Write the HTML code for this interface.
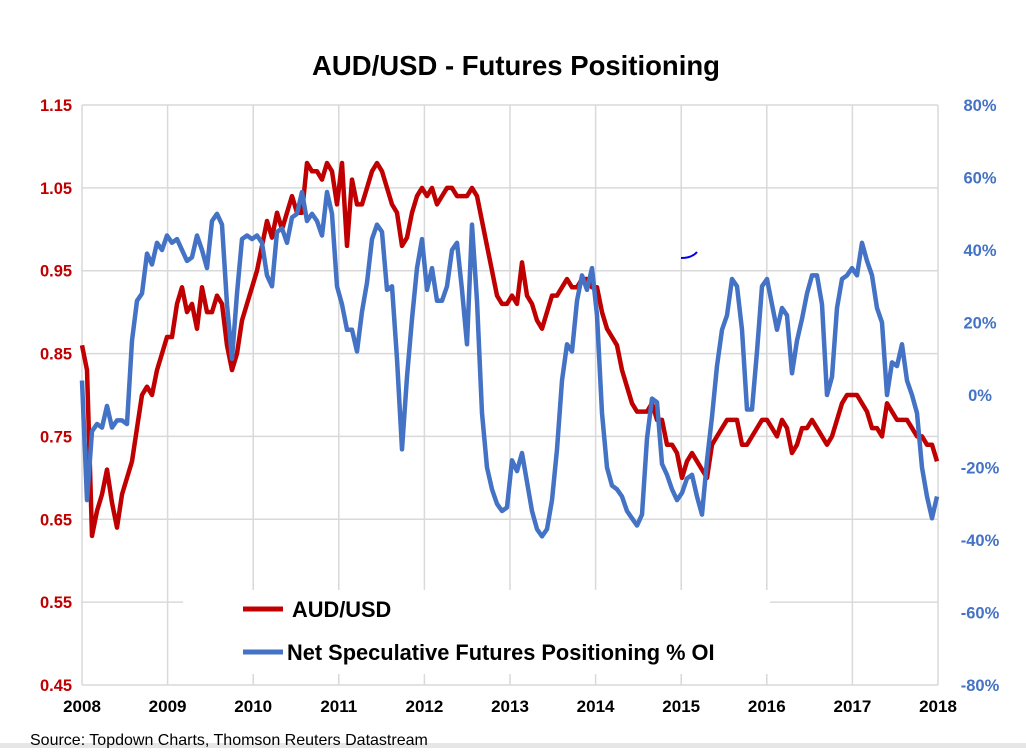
<!DOCTYPE html>
<html><head><meta charset="utf-8"><style>
body{margin:0;background:#fff;width:1026px;height:748px;overflow:hidden;font-family:"Liberation Sans",Arial,sans-serif}
svg text{font-family:"Liberation Sans",Arial,sans-serif;font-weight:bold}
</style></head><body>
<svg id="chart" width="1026" height="748" xmlns="http://www.w3.org/2000/svg">
<rect x="0" y="743" width="1026" height="5" fill="#e6e6e6"/>
<text x="516" y="75" text-anchor="middle" font-size="27.5" fill="#000">AUD/USD - Futures Positioning</text>
<g id="grid"></g>
<g id="series"></g>
<rect x="183" y="590" width="587" height="84" fill="#fff"/>
<line x1="243" y1="609" x2="283" y2="609" stroke="#C00000" stroke-width="5"/>
<text x="292" y="617" font-size="21.8" fill="#000">AUD/USD</text>
<line x1="243" y1="652" x2="283" y2="652" stroke="#4472C4" stroke-width="5"/>
<text x="287" y="660" font-size="21.8" fill="#000">Net Speculative Futures Positioning % OI</text>
<path d="M681,258 Q692,258 697,252" stroke="#0000ee" stroke-width="2" fill="none"/>
<g id="axes"></g>
<text x="30" y="745" font-size="16" style="font-weight:normal" fill="#000">Source: Topdown Charts, Thomson Reuters Datastream</text>
</svg>
<script>
const leftTicks=[0.45,0.55,0.65,0.75,0.85,0.95,1.05,1.15];
const rightTicks=[-80,-60,-40,-20,0,20,40,60,80];
const yearLabels=[2008,2009,2010,2011,2012,2013,2014,2015,2016,2017,2018];
const startYear=2008;
const stepYears=5/85.6;
const audusd=[0.86,0.83,0.63,0.66,0.68,0.71,0.67,0.64,0.68,0.70,0.72,0.76,0.80,0.81,0.80,0.83,0.85,0.87,0.87,0.91,0.93,0.90,0.91,0.88,0.93,0.90,0.90,0.92,0.91,0.86,0.83,0.85,0.89,0.91,0.93,0.95,0.98,1.01,0.99,1.02,1.00,1.02,1.04,1.02,1.02,1.08,1.07,1.07,1.06,1.08,1.07,1.03,1.08,0.98,1.06,1.03,1.03,1.05,1.07,1.08,1.07,1.05,1.03,1.02,0.98,0.99,1.02,1.04,1.05,1.04,1.05,1.03,1.04,1.05,1.05,1.04,1.04,1.04,1.05,1.04,1.01,0.98,0.95,0.92,0.91,0.91,0.92,0.91,0.96,0.92,0.91,0.89,0.88,0.90,0.92,0.92,0.93,0.94,0.93,0.93,0.94,0.94,0.93,0.93,0.90,0.88,0.87,0.86,0.83,0.81,0.79,0.78,0.78,0.78,0.79,0.77,0.77,0.74,0.74,0.73,0.70,0.72,0.73,0.72,0.71,0.70,0.74,0.75,0.76,0.77,0.77,0.77,0.74,0.74,0.75,0.76,0.77,0.77,0.76,0.75,0.77,0.76,0.73,0.74,0.76,0.76,0.77,0.76,0.75,0.74,0.75,0.77,0.79,0.80,0.80,0.80,0.79,0.78,0.76,0.76,0.75,0.79,0.78,0.77,0.77,0.77,0.76,0.75,0.75,0.74,0.74,0.72];
const positioning=[4,-29,-10,-8,-9,-3,-9,-7,-7,-8,15,26,28,39,36,42,40,44,42,43,40,37,38,44,40,35,48,50,47,25,10,28,43,44,43,44,42,33,30,45,46,42,49,50,56,48,50,48,44,56,50,30,25,18,18,12,23,31,43,47,45,29,30,10,-15,5,21,35,43,29,35,26,26,30,40,42,29,14,47,26,-5,-20,-26,-30,-32,-31,-18,-21,-16,-24,-32,-37,-39,-37,-29,-15,4,14,12,26,33,29,35,22,-5,-20,-25,-26,-28,-32,-34,-36,-33,-12,-1,-2,-19,-22,-26,-29,-27,-23,-22,-28,-33,-18,-6,8,18,22,32,30,18,-4,-4,12,30,32,25,18,24,22,6,15,21,28,33,33,25,0,5,24,32,33,35,33,42,37,33,24,20,0,9,8,14,4,0,-5,-20,-28,-34,-28];

const X0=82,X1=938,Y0=105,Y1=685;
const xs=y=>X0+(y-2008)/10*(X1-X0);
const yl=v=>Y0+(1.15-v)/0.7*(Y1-Y0);
const yr=p=>Y0+(80-p)/160*(Y1-Y0);
const NS='http://www.w3.org/2000/svg';
function mk(tag,attrs,parent){const e=document.createElementNS(NS,tag);for(const k in attrs)e.setAttribute(k,attrs[k]);parent.appendChild(e);return e;}
const grid=document.getElementById('grid'),axes=document.getElementById('axes'),ser=document.getElementById('series');
leftTicks.forEach(v=>{
  const l=mk('line',{x1:X0,x2:X1,y1:yl(v),y2:yl(v),stroke:'#d9d9d9','stroke-width':1.5},grid);
  
  
  const t=mk('text',{x:56,y:yl(v)+6,'text-anchor':'middle','font-size':16.5,fill:'#C00000'},axes);
  t.textContent=v.toFixed(2);
  
  
});
rightTicks.forEach(p=>{
  const t=mk('text',{x:980,y:yr(p)+6,'text-anchor':'middle','font-size':16.5,fill:'#4472C4'},axes);
  t.textContent=p+'%';
  
  
});
yearLabels.forEach(y=>{
  const l=mk('line',{x1:xs(y),x2:xs(y),y1:Y0,y2:Y1,stroke:'#d9d9d9','stroke-width':1.5},grid);
  
  
  const t=mk('text',{x:xs(y),y:712,'text-anchor':'middle','font-size':17,fill:'#000'},axes);
  t.textContent=y;
  
  
});
function pathOf(arr,yf){return arr.map((v,i)=>(i?'L':'M')+xs(startYear+i*stepYears).toFixed(1)+','+yf(v).toFixed(1)).join('');}
const pa=mk('path',{d:pathOf(audusd,yl),fill:'none',stroke:'#C00000','stroke-width':4.5,'stroke-linejoin':'round'},ser);


const pb=mk('path',{d:pathOf(positioning,yr),fill:'none',stroke:'#4472C4','stroke-width':4.5,'stroke-linejoin':'round'},ser);


</script>
</body></html>
